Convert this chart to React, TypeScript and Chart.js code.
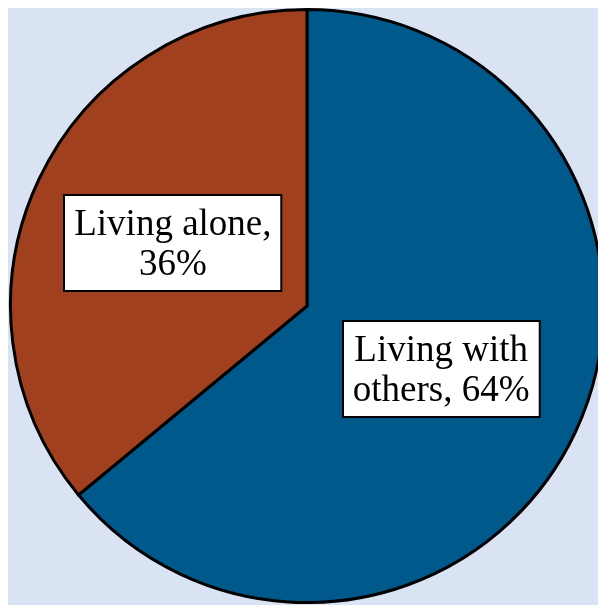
import React, { useEffect, useRef } from "react";
import { Chart, registerables } from "chart.js";

Chart.register(...registerables);

const categories = ["Living with others", "Living alone"];
const values = [64, 36];
const sliceColors = ["#00598b", "#a1401f"];

const FONT = '37px "Liberation Serif", "Times New Roman", serif';
const LINE_H = 40;
const PAD_X = 10;
const PAD_Y = 8;
const WRAP = 210;

function wrap(ctx: CanvasRenderingContext2D, text: string, max: number): string[] {
  const words = text.split(" ");
  const lines: string[] = [];
  let cur = "";
  for (const w of words) {
    const test = cur ? cur + " " + w : w;
    if (cur && ctx.measureText(test).width > max) {
      lines.push(cur);
      cur = w;
    } else cur = test;
  }
  if (cur) lines.push(cur);
  return lines;
}

const boxLabels = {
  id: "boxLabels",
  afterDatasetsDraw(chart: any) {
    const ctx: CanvasRenderingContext2D = chart.ctx;
    const meta = chart.getDatasetMeta(0);
    ctx.save();
    ctx.font = FONT;
    meta.data.forEach((arc: any, i: number) => {
      const { x, y } = arc.tooltipPosition();
      const text = `${categories[i]}, ${values[i]}%`;
      const lines = wrap(ctx, text, WRAP);
      const tw = Math.max(...lines.map((l) => ctx.measureText(l).width));
      const w = tw + PAD_X * 2;
      const h = lines.length * LINE_H + PAD_Y * 2;
      const bx = Math.round(x - w / 2);
      const by = Math.round(y - h / 2);
      ctx.fillStyle = "#ffffff";
      ctx.fillRect(bx, by, w, h);
      ctx.strokeStyle = "#000000";
      ctx.lineWidth = 2;
      ctx.strokeRect(bx, by, w, h);
      ctx.fillStyle = "#000000";
      ctx.textAlign = "center";
      ctx.textBaseline = "middle";
      lines.forEach((l, k) => {
        ctx.fillText(l, x, by + PAD_Y + LINE_H * k + LINE_H / 2 + 2);
      });
    });
    ctx.restore();
  },
};

export default function App() {
  const ref = useRef<HTMLCanvasElement>(null);
  useEffect(() => {
    if (!ref.current) return;
    const chart = new Chart(ref.current, {
      type: "pie",
      data: {
        labels: categories,
        datasets: [
          {
            data: values,
            backgroundColor: sliceColors,
            borderColor: "#000000",
            borderWidth: 3,
            borderJoinStyle: "miter",
          } as any,
        ],
      },
      options: {
        responsive: false,
        animation: false,
        layout: { padding: 0 },
        plugins: {
          legend: { display: false },
          tooltip: { enabled: false },
        },
      },
      plugins: [boxLabels],
    });
    return () => chart.destroy();
  }, []);
  return (
    <div
      style={{
        position: "fixed",
        left: 8,
        top: 8,
        right: 0,
        bottom: 0,
        overflow: "hidden",
        background: "#dae3f3",
      }}
    >
      <canvas
        ref={ref}
        width={598}
        height={596}
        style={{ display: "block", width: 598, height: 596 }}
      />
    </div>
  );
}
